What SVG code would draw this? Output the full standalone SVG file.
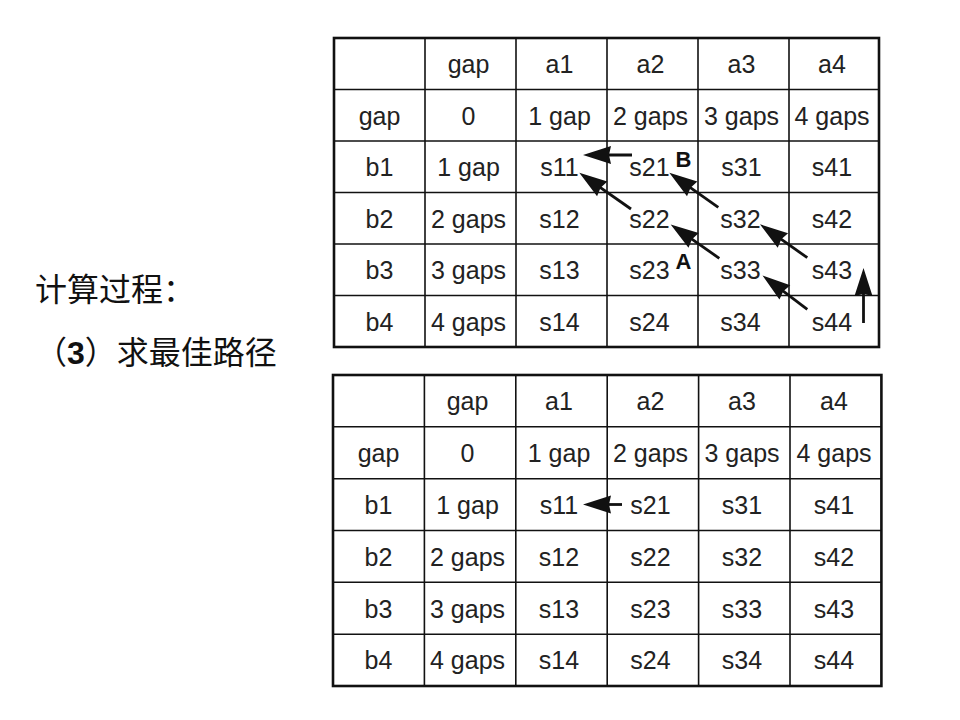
<svg xmlns="http://www.w3.org/2000/svg" width="960" height="720" viewBox="0 0 960 720">
<style>
.bg{fill:#fff}
.outer{fill:none;stroke:#111;stroke-width:2.6}
.grid{stroke:#111;stroke-width:1.6}
.t{font-family:"Liberation Sans",Arial,sans-serif;font-size:25px;fill:#222;text-anchor:middle}
.lbl{font-family:"Liberation Sans",Arial,sans-serif;font-size:22px;font-weight:bold;fill:#111;text-anchor:middle}
.cn{font-family:"Liberation Sans","Noto Sans CJK SC",sans-serif;font-size:32px;fill:#111}
.arr{stroke:#111;stroke-width:2.8;fill:none;marker-end:url(#ah)}
</style>
<defs>
<marker id="ah" markerUnits="userSpaceOnUse" markerWidth="40" markerHeight="24" refX="27" refY="12" orient="auto">
<path d="M38,12 L10,3 L12,12 L10,21 Z" fill="#111"/>
</marker>
</defs>
<rect class="bg" x="0" y="0" width="960" height="720"/>

<g id="caption">
<text class="cn" x="35" y="301">计算过程：</text>
<text class="cn" x="35" y="364">（<tspan font-weight="bold">3</tspan>）求最佳路径</text>
</g>

<g id="table-top">
<rect class="outer" x="334" y="38" width="545" height="309"/>
<line class="grid" x1="425" y1="38" x2="425" y2="347"/>
<line class="grid" x1="516" y1="38" x2="516" y2="347"/>
<line class="grid" x1="607" y1="38" x2="607" y2="347"/>
<line class="grid" x1="698" y1="38" x2="698" y2="347"/>
<line class="grid" x1="789" y1="38" x2="789" y2="347"/>
<line class="grid" x1="334" y1="89.5" x2="879" y2="89.5"/>
<line class="grid" x1="334" y1="141" x2="879" y2="141"/>
<line class="grid" x1="334" y1="192.5" x2="879" y2="192.5"/>
<line class="grid" x1="334" y1="244" x2="879" y2="244"/>
<line class="grid" x1="334" y1="295.5" x2="879" y2="295.5"/>
<text class="t" x="468.5" y="73">gap</text>
<text class="t" x="559.5" y="73">a1</text>
<text class="t" x="650.5" y="73">a2</text>
<text class="t" x="741.5" y="73">a3</text>
<text class="t" x="832" y="73">a4</text>
<text class="t" x="379.5" y="124.5">gap</text>
<text class="t" x="468.5" y="124.5">0</text>
<text class="t" x="559.5" y="124.5">1 gap</text>
<text class="t" x="650.5" y="124.5">2 gaps</text>
<text class="t" x="741.5" y="124.5">3 gaps</text>
<text class="t" x="832" y="124.5">4 gaps</text>
<text class="t" x="379.5" y="176">b1</text>
<text class="t" x="468.5" y="176">1 gap</text>
<text class="t" x="559.5" y="176">s11</text>
<text class="t" x="649.5" y="176">s21</text>
<text class="t" x="741.5" y="176">s31</text>
<text class="t" x="832" y="176">s41</text>
<text class="t" x="379.5" y="227.5">b2</text>
<text class="t" x="468.5" y="227.5">2 gaps</text>
<text class="t" x="559.5" y="227.5">s12</text>
<text class="t" x="649.5" y="227.5">s22</text>
<text class="t" x="740.5" y="227.5">s32</text>
<text class="t" x="832" y="227.5">s42</text>
<text class="t" x="379.5" y="279">b3</text>
<text class="t" x="468.5" y="279">3 gaps</text>
<text class="t" x="559.5" y="279">s13</text>
<text class="t" x="649.5" y="279">s23</text>
<text class="t" x="740.5" y="279">s33</text>
<text class="t" x="832" y="279">s43</text>
<text class="t" x="379.5" y="330.5">b4</text>
<text class="t" x="468.5" y="330.5">4 gaps</text>
<text class="t" x="559.5" y="330.5">s14</text>
<text class="t" x="649.5" y="330.5">s24</text>
<text class="t" x="740.5" y="330.5">s34</text>
<text class="t" x="832" y="330.5">s44</text>
<text class="lbl" x="683.5" y="167">B</text>
<text class="lbl" x="683.5" y="269">A</text>
</g>

<g id="table-bottom">
<rect class="outer" x="333" y="375" width="548.4" height="311"/>
<line class="grid" x1="424.4" y1="375" x2="424.4" y2="686"/>
<line class="grid" x1="515.8" y1="375" x2="515.8" y2="686"/>
<line class="grid" x1="607.2" y1="375" x2="607.2" y2="686"/>
<line class="grid" x1="698.6" y1="375" x2="698.6" y2="686"/>
<line class="grid" x1="790" y1="375" x2="790" y2="686"/>
<line class="grid" x1="333" y1="426.8" x2="881.4" y2="426.8"/>
<line class="grid" x1="333" y1="478.7" x2="881.4" y2="478.7"/>
<line class="grid" x1="333" y1="530.5" x2="881.4" y2="530.5"/>
<line class="grid" x1="333" y1="582.3" x2="881.4" y2="582.3"/>
<line class="grid" x1="333" y1="634.2" x2="881.4" y2="634.2"/>
<text class="t" x="467.5" y="410">gap</text>
<text class="t" x="559" y="410">a1</text>
<text class="t" x="650.5" y="410">a2</text>
<text class="t" x="742" y="410">a3</text>
<text class="t" x="834" y="410">a4</text>
<text class="t" x="378.5" y="462">gap</text>
<text class="t" x="467.5" y="462">0</text>
<text class="t" x="559" y="462">1 gap</text>
<text class="t" x="650.5" y="462">2 gaps</text>
<text class="t" x="742" y="462">3 gaps</text>
<text class="t" x="834" y="462">4 gaps</text>
<text class="t" x="378.5" y="514">b1</text>
<text class="t" x="467.5" y="514">1 gap</text>
<text class="t" x="559" y="514">s11</text>
<text class="t" x="650.5" y="514">s21</text>
<text class="t" x="742" y="514">s31</text>
<text class="t" x="834" y="514">s41</text>
<text class="t" x="378.5" y="565.5">b2</text>
<text class="t" x="467.5" y="565.5">2 gaps</text>
<text class="t" x="559" y="565.5">s12</text>
<text class="t" x="650.5" y="565.5">s22</text>
<text class="t" x="742" y="565.5">s32</text>
<text class="t" x="834" y="565.5">s42</text>
<text class="t" x="378.5" y="617.5">b3</text>
<text class="t" x="467.5" y="617.5">3 gaps</text>
<text class="t" x="559" y="617.5">s13</text>
<text class="t" x="650.5" y="617.5">s23</text>
<text class="t" x="742" y="617.5">s33</text>
<text class="t" x="834" y="617.5">s43</text>
<text class="t" x="378.5" y="669">b4</text>
<text class="t" x="467.5" y="669">4 gaps</text>
<text class="t" x="559" y="669">s14</text>
<text class="t" x="650.5" y="669">s24</text>
<text class="t" x="742" y="669">s34</text>
<text class="t" x="834" y="669">s44</text>
</g>

<g id="connectors">
<line class="arr" x1="632" y1="155" x2="594" y2="155"/>
<line class="arr" x1="631" y1="209" x2="588.3" y2="179.1"/>
<line class="arr" x1="718.3" y1="207.3" x2="678.3" y2="179.1"/>
<line class="arr" x1="719.3" y1="258.3" x2="679.7" y2="230.7"/>
<line class="arr" x1="807.3" y1="257.7" x2="769" y2="230.7"/>
<line class="arr" x1="807.3" y1="309.3" x2="771.3" y2="282.1"/>
<line class="arr" x1="863.5" y1="323" x2="863.5" y2="279"/>
<line class="arr" x1="622" y1="504.5" x2="594" y2="504.5"/>
</g>
</svg>
